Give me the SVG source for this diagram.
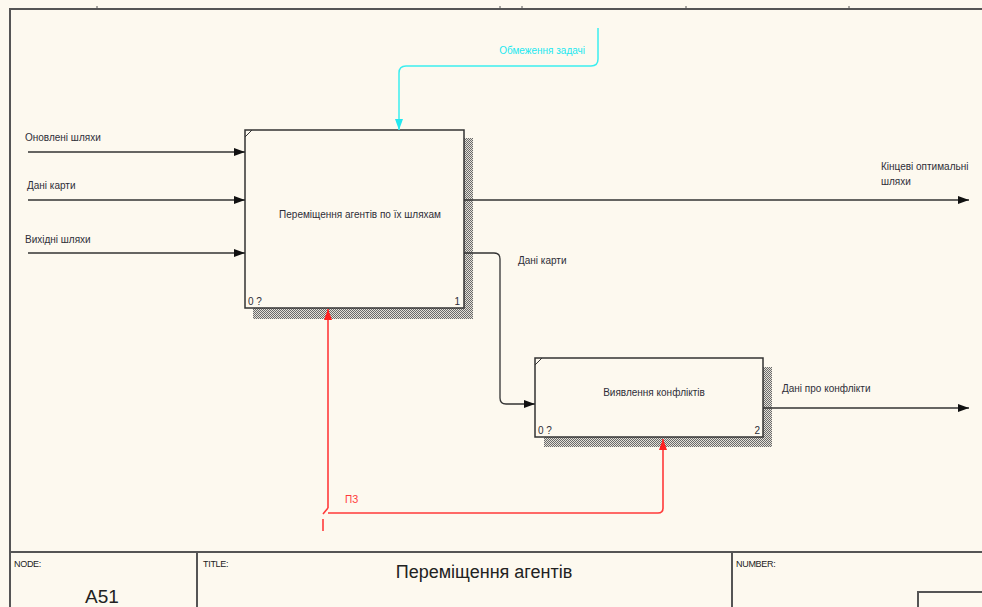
<svg xmlns="http://www.w3.org/2000/svg" width="982" height="607" viewBox="0 0 982 607">
  <defs>
    <style>
      .lbl { font-family: "Liberation Sans", Arial, sans-serif; font-size: 10px; fill: #2e2e38; }
      .box { fill: #fdf9ef; stroke: #333; stroke-width: 1.5; }
      .shadow { fill: url(#hatch); }
      .arrow { fill: none; stroke: #333; stroke-width: 1.3; }
      .ctrl { fill: none; stroke: #3ceef0; stroke-width: 1.5; }
      .mech { fill: none; stroke: #ff3a3a; stroke-width: 1.6; }
      .frame { stroke: #555; stroke-width: 2; fill: none; }
      .small { font-family: "Liberation Sans", Arial, sans-serif; font-size: 9px; fill: #222; letter-spacing: -0.3px; }
      .big { font-family: "Liberation Sans", Arial, sans-serif; font-size: 18px; fill: #222; }
    </style>
    <pattern id="hatch" width="2" height="2" patternUnits="userSpaceOnUse">
      <rect width="2" height="2" fill="#e4e1d8"/>
      <rect width="1" height="1" fill="#6a6a6a"/>
      <rect x="1" y="1" width="1" height="1" fill="#6a6a6a"/>
    </pattern>
    <marker id="ah" markerUnits="userSpaceOnUse" markerWidth="12" markerHeight="8" refX="11" refY="4" orient="auto">
      <path d="M0,0 L11,4 L0,8 z" fill="#111"/>
    </marker>
    <marker id="ahc" markerUnits="userSpaceOnUse" markerWidth="12" markerHeight="8" refX="11" refY="4" orient="auto">
      <path d="M0,0 L11,4 L0,8 z" fill="#22e8f0"/>
    </marker>
    <marker id="ahr" markerUnits="userSpaceOnUse" markerWidth="12" markerHeight="8" refX="11" refY="4" orient="auto">
      <path d="M0,0 L11,4 L0,8 z" fill="#ff2020"/>
    </marker>
  </defs>

  <!-- sheet -->
  <rect width="982" height="607" fill="#fdf9ef"/>

  <!-- drawing frame -->
  <g id="frame">
    <line class="frame" x1="10" y1="9" x2="982" y2="9"/>
    <line class="frame" x1="10" y1="8" x2="10" y2="607"/>
    <g stroke="#555" stroke-width="1">
      <line x1="97" y1="6" x2="97" y2="9"/>
      <line x1="500" y1="6" x2="500" y2="9"/>
      <line x1="522" y1="6" x2="522" y2="9"/>
      <line x1="686" y1="6" x2="686" y2="9"/>
      <line x1="849" y1="6" x2="849" y2="9"/>
    </g>
  </g>

  <!-- activity boxes -->
  <g id="node-1">
    <rect class="shadow" x="253" y="138" width="220" height="181"/>
    <rect class="box" x="245" y="130" width="219" height="178"/>
    <line x1="245" y1="137" x2="252" y2="130" stroke="#333" stroke-width="1"/>
    <text class="lbl" x="360" y="218" text-anchor="middle">Переміщення агентів по їх шляхам</text>
    <text class="lbl" x="248" y="305">0 ?</text>
    <text class="lbl" x="460" y="305" text-anchor="end">1</text>
  </g>

  <g id="node-2">
    <rect class="shadow" x="544" y="367" width="228" height="80"/>
    <rect class="box" x="535" y="358" width="228" height="79"/>
    <line x1="535" y1="365" x2="542" y2="358" stroke="#333" stroke-width="1"/>
    <text class="lbl" x="654" y="396" text-anchor="middle">Виявлення конфліктів</text>
    <text class="lbl" x="538" y="434">0 ?</text>
    <text class="lbl" x="760" y="434" text-anchor="end">2</text>
  </g>

  <!-- connectors -->
  <g id="connectors">
    <!-- inputs -->
    <line class="arrow" x1="28" y1="152" x2="245" y2="152" marker-end="url(#ah)"/>
    <line class="arrow" x1="28" y1="200" x2="245" y2="200" marker-end="url(#ah)"/>
    <line class="arrow" x1="28" y1="253" x2="245" y2="253" marker-end="url(#ah)"/>
    <text class="lbl" x="25" y="141">Оновлені шляхи</text>
    <text class="lbl" x="27" y="189">Дані карти</text>
    <text class="lbl" x="25" y="243">Вихідні шляхи</text>

    <!-- control -->
    <path class="ctrl" d="M598,28 V59 Q598,66 591,66 H406 Q399,66 399,73 V130" marker-end="url(#ahc)"/>
    <text class="lbl" x="585" y="54" text-anchor="end" style="fill:#22e8f0">Обмеження задачі</text>

    <!-- outputs of node 1 -->
    <line class="arrow" x1="464" y1="200" x2="969" y2="200" marker-end="url(#ah)"/>
    <text class="lbl" x="881" y="170">Кінцеві оптимальні</text>
    <text class="lbl" x="881" y="185">шляхи</text>

    <path class="arrow" d="M464,253 H494 Q500,253 500,259 V398 Q500,404 506,404 H535" marker-end="url(#ah)"/>
    <text class="lbl" x="518" y="264">Дані карти</text>

    <!-- output of node 2 -->
    <line class="arrow" x1="763" y1="408" x2="969" y2="408" marker-end="url(#ah)"/>
    <text class="lbl" x="782" y="392">Дані про конфлікти</text>

    <!-- mechanism (tunnelled) -->
    <path class="mech" d="M328,508 V309" marker-end="url(#ahr)"/>
    <path class="mech" d="M328,508 L323,514"/>
    <path class="mech" d="M328,513 H658 Q663,513 663,508 V439" marker-end="url(#ahr)"/>
    <line class="mech" x1="323" y1="519" x2="323" y2="531"/>
    <text class="lbl" x="345" y="503" style="fill:#ff3a3a">ПЗ</text>
  </g>

  <!-- title block -->
  <g id="title-block">
    <line class="frame" x1="10" y1="552" x2="982" y2="552"/>
    <line class="frame" x1="197" y1="552" x2="197" y2="607"/>
    <line class="frame" x1="732" y1="552" x2="732" y2="607"/>
    <path class="frame" d="M918,607 V592 H982"/>
    <text class="small" x="14" y="567">NODE:</text>
    <text class="small" x="203" y="567">TITLE:</text>
    <text class="small" x="736" y="567">NUMBER:</text>
    <text class="big" x="484" y="578" text-anchor="middle">Переміщення агентів</text>
    <text class="big" x="102" y="603" text-anchor="middle" style="font-size:19px">A51</text>
  </g>
</svg>
